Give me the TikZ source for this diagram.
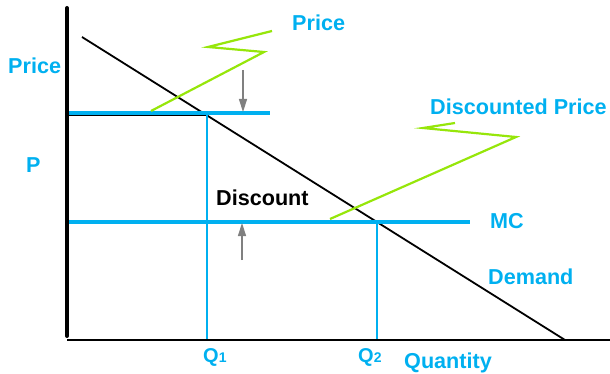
\documentclass[tikz,border=0pt]{standalone}
\usepackage{fontspec}
\setmainfont{Liberation Sans}
\usetikzlibrary{arrows.meta}
\definecolor{skyb}{RGB}{0,176,240}
\definecolor{limeg}{RGB}{150,230,10}
\definecolor{arrg}{RGB}{128,128,128}
\begin{document}
\begin{tikzpicture}[x=1pt,y=-1pt,
  lbl/.style={font=\fontsize{21.6}{24}\selectfont\bfseries, text=skyb, inner sep=0pt, anchor=base west},
  blbl/.style={lbl, text=black},
  qlbl/.style={font=\fontsize{20}{22}\selectfont\bfseries, text=skyb, inner sep=0pt, anchor=base west},
  axisv/.style={line width=4pt, black, line cap=round},
  axish/.style={line width=2.2pt, black},
  pline/.style={line width=3.5pt, skyb},
  qline/.style={line width=2pt, skyb},
  zig/.style={line width=2.2pt, limeg, line join=miter},
  garr/.style={line width=1.5pt, arrg, -{Triangle[width=8pt,length=13pt]}}
]
\useasboundingbox (0,0) rectangle (610,374);
% coordinates
\coordinate (vtop) at (67,8);
\coordinate (vbot) at (67,336);
\coordinate (hleft) at (67,340);
\coordinate (hright) at (610,340);
\coordinate (d1) at (82,37);
\coordinate (d2) at (565,340);
\coordinate (p0) at (67,115);
\coordinate (pq) at (207,115);
\coordinate (pb0) at (67,113);
\coordinate (pb1) at (270,113);
\coordinate (mc0) at (67,222);
\coordinate (mc1) at (470,222);
\coordinate (q1t) at (207,113);
\coordinate (q1b) at (207,340);
\coordinate (q2t) at (377,222);
\coordinate (q2b) at (377,340);
\coordinate (z1a) at (151,111);
\coordinate (z1b) at (264,52);
\coordinate (z1c) at (208,47);
\coordinate (z1d) at (272,31);
\coordinate (z2a) at (330,219);
\coordinate (z2b) at (516,137);
\coordinate (z2c) at (423,128);
\coordinate (z2d) at (455,123);
\coordinate (a1s) at (243,70);
\coordinate (a1e) at (243,112);
\coordinate (a2s) at (242,260);
\coordinate (a2e) at (242,223);
% demand and black P line
\draw[line width=1.8pt] (d1) -- (d2);
\draw[line width=2pt] (p0) -- (pq);
% blue lines
\draw[pline] (pb0) -- (pb1);
\draw[pline] (mc0) -- (mc1);
\draw[qline] (q1t) -- (q1b);
\draw[qline] (q2t) -- (q2b);
% axes
\draw[axish] (hleft) -- (hright);
\draw[axisv] (vtop) -- (vbot);
% zigzags
\draw[zig] (z1a) -- (z1b) -- (z1c) -- (z1d);
\draw[zig] (z2a) -- (z2b) -- (z2c) -- (z2d);
% arrows
\draw[garr] (a1s) -- (a1e);
\draw[garr] (a2s) -- (a2e);
% labels
\node[lbl] (tprice) at (292,31) {Price};
\node[lbl] (lprice) at (8,74) {Price};
\node[lbl] (lp) at (26,173) {P};
\node[lbl] (dprice) at (430,115) {Discounted Price};
\node[lbl] (mc) at (490,229) {MC};
\node[lbl] (dem) at (488,284) {Demand};
\node[blbl] (disc) at (216,205) {Discount};
\node[qlbl] (q1) at (203,362) {Q{\fontsize{14}{14}\selectfont 1}};
\node[qlbl] (q2) at (358,362) {Q{\fontsize{14}{14}\selectfont 2}};
\node[lbl] (qty) at (404,368) {Quantity};
\end{tikzpicture}
\end{document}
